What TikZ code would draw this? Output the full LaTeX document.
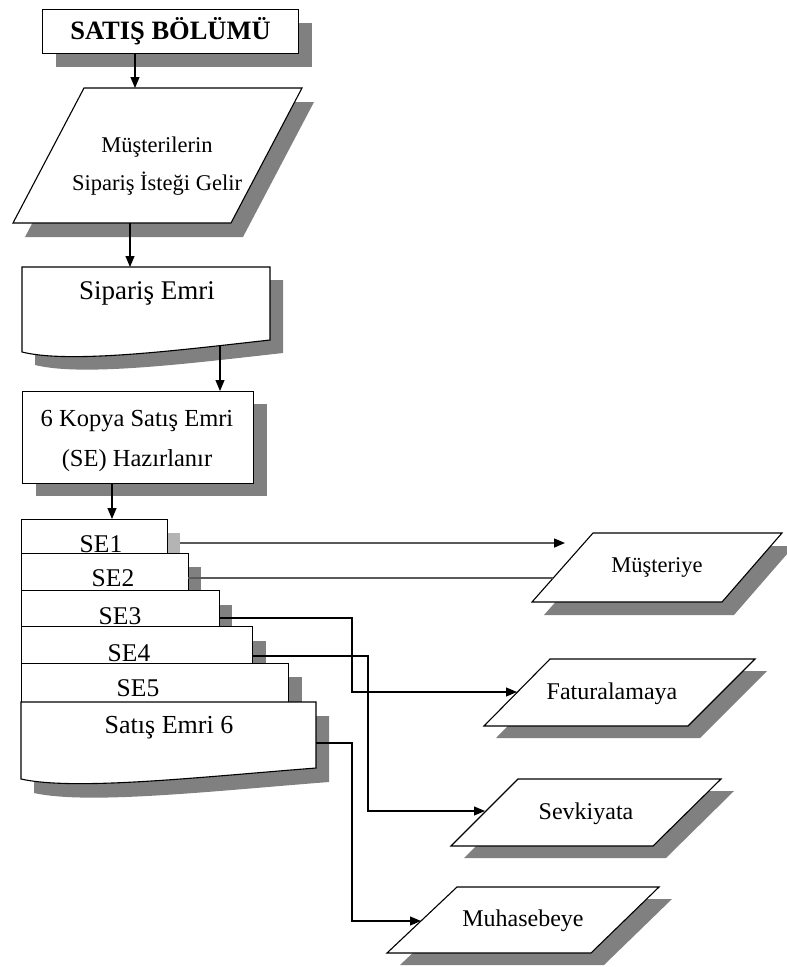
\documentclass[tikz,border=0pt]{standalone}
\usepackage{fontspec}
\setmainfont{Liberation Serif}
\usetikzlibrary{arrows.meta}
\definecolor{shd}{RGB}{128,128,128}
\definecolor{shdlight}{RGB}{180,180,180}
\definecolor{lnk}{RGB}{90,90,90}
\begin{document}
\begin{tikzpicture}[x=1pt,y=-1pt,
  outline/.style={draw=black, fill=white, line width=1.1pt},
  shadow/.style={fill=shd},
  boxnode/.style={outline, anchor=north west, inner sep=0pt},
  tip/.style={-{Triangle[length=11pt,width=9pt,color=black]}},
  flow/.style={line width=1.1pt, tip},
  glink/.style={line width=1.5pt, draw=lnk},
  txt/.style={inner sep=0pt, align=center},
]
\useasboundingbox (0,0) rectangle (787,967);

% --- department title ---
\fill[shadow] (56,23) rectangle (312,67);
\node[boxnode, minimum width=256pt, minimum height=44pt,
      font=\bfseries\fontsize{26.5}{26.5}\selectfont] (title) at (42,9) {SATIŞ BÖLÜMÜ};

% --- incoming customer orders (input) ---
\fill[shadow] (96,102) -- (314,102) -- (243,237) -- (25,237) -- cycle;
\draw[outline] (84,88) -- (302,88) -- (231,223) -- (13,223) -- cycle;
\node[txt, font=\fontsize{22.5}{38}\selectfont] (request) at (157,166)
  {Müşterilerin\\Sipariş İsteği Gelir};
\coordinate (reqtop) at (135,88);
\coordinate (reqbot) at (130,223);

% --- order document ---
\fill[shadow] (35,280) -- (283,280) -- (283,353)
  .. controls (193,363) and (83,377) .. (35,365) -- cycle;
\draw[outline] (22,267) -- (270,267) -- (270,340)
  .. controls (180,350) and (70,364) .. (22,352) -- cycle;
\node[txt, font=\fontsize{27}{27}\selectfont] (order) at (147,293) {Sipariş Emri};
\coordinate (ordtop) at (130,267);
\coordinate (ordbot) at (220,345);

% --- six copies prepared ---
\fill[shadow] (36,404) rectangle (267,496);
\node[boxnode, minimum width=231pt, minimum height=92pt] (copies) at (22,391) {};
\node[txt, font=\fontsize{24.5}{40}\selectfont] (copiestxt) at (137,441)
  {6 Kopya Satış Emri\\(SE) Hazırlanır};
\coordinate (coptop) at (220,391);
\coordinate (copbot) at (112,483);

% --- stacked copies ---
\tikzset{setxt/.style={txt, font=\fontsize{25.5}{25.5}\selectfont}}
\fill[shdlight] (167,533) rectangle (180,553);
\node[boxnode, minimum width=146pt, minimum height=34pt] (se1) at (21,519) {};
\node[setxt] (se1txt) at (101,544) {SE1};

\fill[shadow] (188,567) rectangle (201,590);
\node[boxnode, minimum width=167pt, minimum height=37pt] (se2) at (21,553) {};
\node[setxt] (se2txt) at (113,578) {SE2};

\fill[shadow] (219,605) rectangle (232,626);
\node[boxnode, minimum width=198pt, minimum height=36pt] (se3) at (21,590) {};
\node[setxt] (se3txt) at (120,616) {SE3};

\fill[shadow] (252,641) rectangle (266,663);
\node[boxnode, minimum width=231pt, minimum height=37pt] (se4) at (21,626) {};
\node[setxt] (se4txt) at (129,653) {SE4};

\fill[shadow] (288,677) rectangle (302,702);
\node[boxnode, minimum width=267pt, minimum height=39pt] (se5) at (21,663) {};
\node[setxt] (se5txt) at (138,688) {SE5};

\fill[shadow] (34,716) -- (329,716) -- (329,782)
  .. controls (213,791) and (88,805) .. (34,793) -- cycle;
\draw[outline] (21,702) -- (316,702) -- (316,768)
  .. controls (200,777) and (75,791) .. (21,779) -- cycle;
\node[txt, font=\fontsize{26}{26}\selectfont] (se6txt) at (169,728) {Satış Emri 6};

% --- destinations ---
\tikzset{dest/.style={txt, font=\fontsize{24}{24}\selectfont}}
\fill[shadow] (605,546) -- (794,546) -- (734,615) -- (544,615) -- cycle;
\draw[outline] (593,533) -- (782,533) -- (722,602) -- (532,602) -- cycle;
\node[dest, font=\fontsize{22.5}{22.5}\selectfont] (customer) at (657,567) {Müşteriye};

\fill[shadow] (562,671) -- (767,671) -- (700,738) -- (496,738) -- cycle;
\draw[outline] (550,659) -- (755,659) -- (688,726) -- (484,726) -- cycle;
\node[dest] (billing) at (612,694) {Faturalamaya};

\fill[shadow] (531,791) -- (734,791) -- (666,858) -- (464,858) -- cycle;
\draw[outline] (518,779) -- (721,779) -- (653,846) -- (451,846) -- cycle;
\node[dest] (shipping) at (586,814) {Sevkiyata};

\fill[shadow] (470,899) -- (672,899) -- (604,965) -- (400,965) -- cycle;
\draw[outline] (457,887) -- (659,887) -- (591,953) -- (387,953) -- cycle;
\node[dest] (accounting) at (523,921) {Muhasebeye};

% --- connector end points ---
\coordinate (se1out) at (180,543);
\coordinate (se2out) at (188,578);
\coordinate (se3out) at (219,618);
\coordinate (se4out) at (252,656);
\coordinate (se6out) at (316,743);
\coordinate (custin1) at (565,543);
\coordinate (custin2) at (553,578);
\coordinate (se3bend) at (352,692);
\coordinate (billin) at (517,692);
\coordinate (se4bend) at (368,811);
\coordinate (shipin) at (485,811);
\coordinate (se6bend) at (352,921);
\coordinate (accin) at (421,921);

% --- main flow ---
\draw[flow] (title.south -| reqtop) -- (reqtop);
\draw[flow] (reqbot) -- (ordtop);
\draw[flow] (ordbot) -- (coptop);
\draw[flow] (copbot) -- (se1.north -| copbot);

% --- distribution of copies ---
\draw[glink, tip] (se1out) -- (custin1);
\draw[glink] (se2out) -- (custin2);
\draw[flow] (se3out) -| (se3bend) -- (billin);
\draw[flow] (se4out) -| (se4bend) -- (shipin);
\draw[flow] (se6out) -| (se6bend) -- (accin);
\end{tikzpicture}
\end{document}
